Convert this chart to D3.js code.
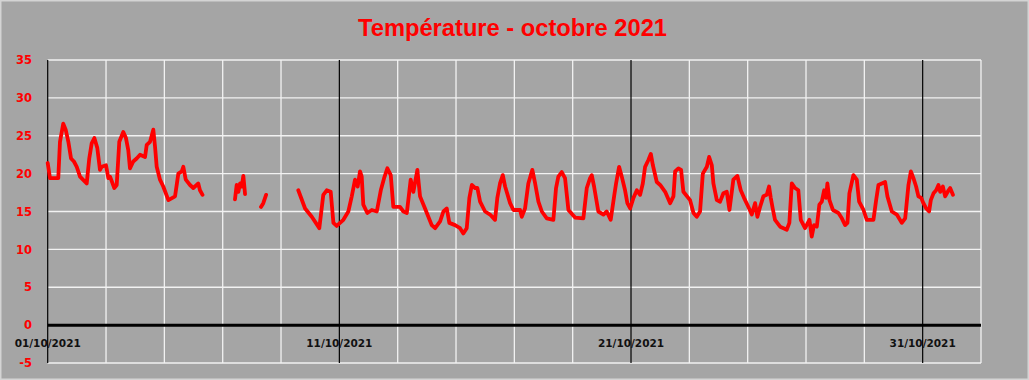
<!DOCTYPE html>
<html lang="fr">
<head>
    <meta charset="UTF-8">
    <script src="https://d3js.org/d3.v7.min.js"></script>
    <style>
        body {
            margin: 0;
            background: #a5a5a5;
            font-family: "DejaVu Sans", Arial, sans-serif;
        }
        .ylab {
            font-size: 11.5px;
            font-weight: bold;
            fill: #ff0000;
        }
        .xlab {
            font-size: 10.5px;
            font-weight: bold;
            fill: #111111;
        }
    </style>
</head>
<body>
    <div id="chart"></div>

    <script>
        // heures depuis le 01/10/2021 00:00, et températures (null = pas de mesure)
        const hours = [
            0, 1.9, 8.7, 10.1, 12.8, 14.8, 17, 19.2, 21.6, 23.9, 26.6, 32.1, 34.2, 36.2, 38.4, 40.8, 43, 44.4, 48,
            49.9, 51.3, 54.8, 56.8, 58.9, 62.2, 64.4, 66.3, 67.7, 70.4, 73.2, 76, 80.1, 81.5, 84.2, 86.9, 88.3, 89.7,
            92.4, 95.1, 99.3, 104.8, 107.5, 110.3, 111.6, 113.6, 117.1, 119.8, 123.9, 125.3, 127.4,
            140,
            154.1, 155.5, 156.9, 158.3, 159.7, 161, 162.4,
            170,
            175.5, 177.4, 179.7,
            195,
            206.2, 211.8, 217.3, 223.5, 226.8, 229.6, 232.9, 235.1, 237.8, 243.3, 247.4, 250.2, 252.9, 255.1, 257,
            258.4, 259.7, 263, 266.7, 270.8, 274.1, 276.8, 279.5, 282.3, 284.4, 289.9, 292.7, 295.5, 298.7, 300.9,
            304.2, 306.4, 310.5, 316, 318.8, 322.9, 325.6, 328.4, 330.5, 335.2, 339.3, 342, 344.8, 347, 349, 351.7,
            353.6, 355.8, 359.9, 364, 368.1, 370, 372.2, 374.5, 376.4, 380.5, 383.2, 388.7, 390.1, 392.8, 395.5,
            398.8, 401.1, 403.8, 406.6, 410.7, 416.1, 418.3, 420.2, 423, 425.7, 428.5, 434, 440.8, 443.6, 446.3,
            447.7, 449.6, 453.1, 457.3, 460, 463.3, 466.1, 467.7, 470.2, 472.4, 475.1, 477, 479.3, 482, 484.8,
            487.5, 489.7, 491.6, 494.3, 496.3, 498, 501.2, 504, 508.1, 512.2, 514.9, 516.3, 519, 521.2, 523.1,
            528.6, 531.4, 534.1, 536.8, 539.1, 542.4, 544.3, 546.5, 547.8, 550.6, 553.3, 556, 558.8, 561, 564.2,
            567.5, 570.3, 573, 576.6, 579.4, 582.1, 584, 586.2, 588.9, 591.7, 593.6, 595, 596.6, 598.5, 602.7,
            608.2, 610.3, 612.3, 615, 617.7, 619.7, 623.2, 626.8, 628.7, 630.6, 632.9, 635, 637, 638.9, 640.5,
            641.6, 643.3, 646.1, 650.7, 653.5, 656.2, 658.1, 659.7, 663, 665.8, 667.7, 671.3, 674, 679.5, 681.7,
            683.6, 686.4, 689.1, 691, 694.6, 698.7, 702.8, 705.6, 708.3, 710.3, 712.4, 714.6, 716.5, 718.8, 720.6,
            722.9, 725.3, 726.7, 728.9, 731.1, 733, 734.4, 736.6, 738.5, 741.3, 742.6, 744.9
        ];
        const temps = [
            21.4, 19.4, 19.4, 24.2, 26.6, 25.8, 24.2, 22, 21.6, 20.9, 19.6, 18.7, 22, 24, 24.7, 23.4, 20.5, 20.9, 21.1,
            19.4, 19.6, 18.1, 18.5, 24.2, 25.5, 24.7, 23.1, 20.7, 21.6, 22, 22.5, 22.2, 23.8, 24.2, 25.8, 23.6, 20.9,
            19.2, 18.3, 16.5, 17, 20, 20.3, 20.9, 19.2, 18.5, 18.1, 18.7, 17.8, 17.2,
            null,
            16.6, 18.5, 17.6, 18.7, 18.3, 19.7, 17.3,
            null,
            15.6, 16.1, 17.2,
            null,
            17.8, 15.4, 14.3, 12.8, 17.2, 17.8, 17.6, 13.5, 13.1, 13.9, 15, 17, 19.2, 18.3, 20.3,
            19.6, 15.9, 14.8, 15.2, 15, 17.8, 19.4, 20.7, 19.8, 15.6, 15.6, 15, 14.8, 19.2, 17.6,
            20.5, 17, 15.4, 13.2, 12.8, 13.7, 15, 15.4, 13.5, 13.2, 12.8, 12.1, 12.8, 16.8, 18.5, 18.1,
            18.1, 16.3, 15, 14.6, 13.9, 16.8, 18.7, 19.8, 18.3, 16.1, 15.2, 15.2, 14.3, 15.4, 18.7,
            20.5, 18.7, 16.3, 15, 14.1, 13.9, 18.1, 19.6, 20.2, 19.4, 15.2, 14.2, 14.1, 18.1, 19.4,
            19.8, 18.3, 15, 14.6, 15, 13.9, 17, 18.7, 20.9, 19.6, 17.8, 16.1, 15.4, 16.8, 17.8,
            17.2, 18.7, 20.9, 21.8, 22.6, 21.1, 18.9, 18.5, 17.6, 16.1, 17, 20.3, 20.7, 20.5, 17.6,
            16.5, 14.8, 14.3, 15, 20, 20.9, 22.2, 21.1, 18.7, 16.5, 16.3, 17.4, 17.6, 15.2, 19.2,
            19.7, 17.8, 16.8, 15.6, 14.6, 16.1, 14.3, 15.6, 17, 17.2, 18.3, 16.8, 15.4, 13.9, 13,
            12.6, 13.5, 18.7, 18.1, 17.8, 13.9, 12.8, 13.9, 11.7, 13.2, 13, 15.9, 16.3, 17.8, 16.8,
            18.7, 16.5, 15.2, 14.8, 14.1, 13.2, 13.5, 17.4, 19.8, 19.2, 16.3, 15.2, 13.9, 13.9, 16.5,
            18.5, 18.7, 18.9, 17, 15, 14.6, 13.5, 14.1, 18.5, 20.3, 19.4, 18.3, 17, 16.8, 16.1,
            15.4, 15, 16.5, 17.4, 17.8, 18.5, 17.6, 18.3, 17, 17.8, 18.1, 17.2
        ];
        const yTicks = [-5, 0, 5, 10, 15, 20, 25, 30, 35];
        const xLabels = ["01/10/2021", "11/10/2021", "21/10/2021", "31/10/2021"];

        const W = 1029, H = 380;
        const margin = {top: 60, right: 48, bottom: 17, left: 47.7};
        const start = Date.UTC(2021, 9, 1);
        const day = 86400000;

        const svg = d3.select("#chart")
            .append("svg")
            .attr("width", W)
            .attr("height", H);

        svg.append("rect")
            .attr("x", 0.75).attr("y", 0.75)
            .attr("width", W - 1.5).attr("height", H - 1.5)
            .attr("fill", "#a5a5a5")
            .attr("stroke", "#d4d4d4")
            .attr("stroke-width", 1.5);

        const x = d3.scaleUtc()
            .domain([new Date(start), new Date(start + 32 * day)])
            .range([margin.left, W - margin.right]);

        const y = d3.scaleLinear()
            .domain([-5, 35])
            .range([H - margin.bottom, margin.top]);

        // titre
        svg.append("text")
            .attr("x", 512.5)
            .attr("y", 36)
            .attr("text-anchor", "middle")
            .attr("textLength", 309)
            .attr("lengthAdjust", "spacingAndGlyphs")
            .style("font-family", "'Liberation Sans', Arial, sans-serif")
            .style("font-size", "23px")
            .style("font-weight", "bold")
            .style("fill", "#ff0000")
            .text("Température - octobre 2021");

        // grille horizontale
        svg.append("g")
            .selectAll("line")
            .data(yTicks.filter(d => d !== 0))
            .enter()
            .append("line")
            .attr("x1", x.range()[0])
            .attr("x2", x.range()[1])
            .attr("y1", d => y(d))
            .attr("y2", d => y(d))
            .attr("stroke", "#f2f2f2")
            .attr("stroke-width", 1.3);

        // grille verticale : tous les 2 jours, noire tous les 10 jours
        const gridDays = d3.range(0, 33, 2);
        svg.append("g")
            .selectAll("line")
            .data(gridDays)
            .enter()
            .append("line")
            .attr("x1", d => x(new Date(start + d * day)))
            .attr("x2", d => x(new Date(start + d * day)))
            .attr("y1", y(35))
            .attr("y2", y(-5))
            .attr("stroke", d => d % 10 === 0 ? "#000000" : "#f2f2f2")
            .attr("stroke-width", d => d % 10 === 0 ? 1.2 : 1.3);

        // axe à 0
        svg.append("line")
            .attr("x1", x.range()[0])
            .attr("x2", x.range()[1])
            .attr("y1", y(0))
            .attr("y2", y(0))
            .attr("stroke", "#000000")
            .attr("stroke-width", 3);

        svg.selectAll(".ylab")
            .data(yTicks)
            .enter()
            .append("text")
            .attr("class", "ylab")
            .attr("x", 32)
            .attr("y", d => y(d) + 4.2)
            .attr("text-anchor", "end")
            .text(d => d);

        svg.selectAll(".xlab")
            .data(xLabels)
            .enter()
            .append("text")
            .attr("class", "xlab")
            .attr("x", (d, i) => x(new Date(start + i * 10 * day)))
            .attr("y", 347)
            .attr("text-anchor", "middle")
            .text(d => d);

        // courbe de température
        const data = hours.map((h, i) => ({date: new Date(start + h * 3600000), t: temps[i]}));

        const line = d3.line()
            .defined(d => d.t !== null)
            .x(d => x(d.date))
            .y(d => y(d.t));

        svg.append("path")
            .datum(data)
            .attr("fill", "none")
            .attr("stroke", "#ff0000")
            .attr("stroke-width", 3.8)
            .attr("stroke-linejoin", "round")
            .attr("stroke-linecap", "round")
            .attr("d", line);
    </script>
</body>
</html>
